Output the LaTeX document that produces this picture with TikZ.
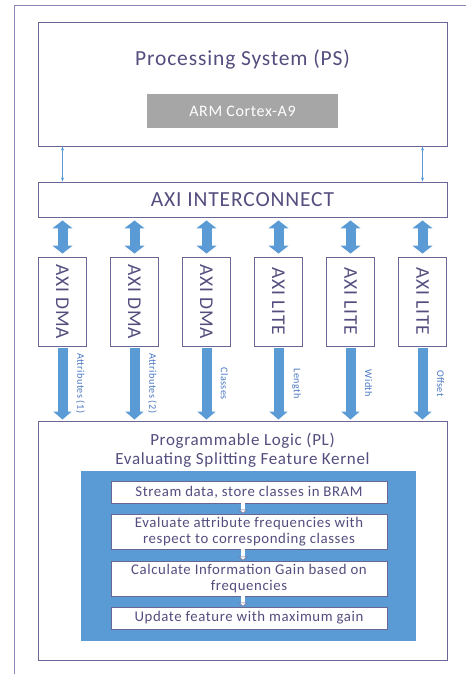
\documentclass[tikz,border=0pt]{standalone}
\usepackage{fontspec}
\setmainfont{Carlito}[LetterSpace=4]
\usetikzlibrary{calc, arrows.meta, positioning}
\definecolor{cframe}{HTML}{8A86B4}
\definecolor{cline}{HTML}{6A6694}
\definecolor{ctext}{HTML}{534E7E}
\definecolor{cblue}{HTML}{5B9BD5}
\definecolor{clabel}{HTML}{4A78C2}
\definecolor{cgray}{HTML}{A6A6A6}

\begin{document}
\begin{tikzpicture}[x=1pt, y=-1pt]
    \useasboundingbox (0,0) rectangle (466,674);
    \begin{scope}[
        bigbox/.style={rectangle, draw=cline, line width=0.9pt, minimum width=409pt, inner sep=0pt},
        portbox/.style={rectangle, draw=cline, line width=0.9pt, minimum width=48pt, minimum height=89pt, inner sep=0pt, font=\fontsize{19.5}{22}\selectfont\color{ctext}},
        stepbox/.style={rectangle, draw=cline, line width=0.8pt, fill=white, minimum width=276pt, inner sep=0pt, align=center, font=\fontsize{14.8}{16}\selectfont\color{ctext}},
        title/.style={font=\fontsize{21.5}{24}\selectfont\color{ctext}},
        portlabel/.style={font=\fontsize{10.2}{12}\selectfont\color{clabel}, rotate=-90},
        thick arrow/.style={draw=cblue, line width=10pt, {Triangle[length=8pt, width=20pt]}-{Triangle[length=8pt, width=20pt]}},
        down arrow/.style={draw=cblue, line width=10pt, -{Triangle[length=8pt, width=18pt]}},
        thin arrow/.style={draw=cblue, line width=0.9pt, {Stealth[length=4pt, width=3pt]}-{Stealth[length=4pt, width=3pt]}},
        flow arrow/.style={draw=cline, line width=0.5pt, double=white, double distance=3.5pt, -{Triangle[length=4pt, width=9pt, fill=white]}}
    ]
        % ================= OUTER FRAME =================
        \draw[cframe, line width=0.9pt] (14,674) -- (14,5) -- (466,5);

        % ================= PROCESSING SYSTEM =================
        \node[bigbox, minimum height=124pt] (ps) at (242.5,84) {};
        \node[title] (ps_title) at (242.5,59) {Processing System (PS)};
        \node[rectangle, fill=cgray, minimum width=191pt, minimum height=34pt, font=\fontsize{16}{18}\selectfont\color{white}] (arm) at (242.5,111) {ARM Cortex-A9};

        % ================= AXI INTERCONNECT =================
        \node[bigbox, minimum height=35pt, title] (ic) at (242.5,199.5) {AXI INTERCONNECT};
        \draw[thin arrow] (ps.south -| 62.5,0) -- (ic.north -| 62.5,0);
        \draw[thin arrow] (ps.south -| 422.5,0) -- (ic.north -| 422.5,0);

        % ================= PROGRAMMABLE LOGIC =================
        \node[bigbox, minimum height=239pt] (pl) at (242.5,540.5) {};

        % ================= AXI PORTS =================
        \foreach \i/\kind/\lbl in {0/DMA/Attributes (1), 1/DMA/Attributes (2), 2/DMA/Classes,
                                   3/LITE/Length, 4/LITE/Width, 5/LITE/Offset} {
            \node[portbox] (port\i) at (62.5+72*\i,301.5) {\rotatebox{-90}{AXI \kind}};
            \draw[thick arrow, shorten <=3pt, shorten >=3pt] (ic.south -| port\i) -- (port\i.north);
            \draw[down arrow, shorten <=2pt, shorten >=1pt] (port\i.south) -- (pl.north -| port\i);
            \node[portlabel] (lbl\i) at ($(port\i.south)!0.5!(pl.north -| port\i)+(18,0)$) {\lbl};
        }

        % ================= KERNEL =================
        \node[font=\fontsize{17}{19.5}\selectfont\color{ctext}, align=center] (pl_title) at (242.5,450) {Programmable Logic (PL)\\Evaluating Splitting Feature Kernel};
        \node[rectangle, fill=cblue, minimum width=335pt, minimum height=170pt] (kernel) at (248.5,556) {};
        \node[stepbox, minimum height=22pt] (s1) at (249,492) {Stream data, store classes in BRAM};
        \node[stepbox, minimum height=35pt] (s2) at (249,531.5) {Evaluate attribute frequencies with\\respect to corresponding classes};
        \node[stepbox, minimum height=35pt] (s3) at (249,578.5) {Calculate Information Gain based on\\frequencies};
        \node[stepbox, minimum height=22pt] (s4) at (249,618) {Update feature with maximum gain};
        \draw[flow arrow] ([xshift=-6pt]s1.south) -- ([xshift=-6pt]s2.north);
        \draw[flow arrow] ([xshift=-6pt]s2.south) -- ([xshift=-6pt]s3.north);
        \draw[flow arrow] ([xshift=-6pt]s3.south) -- ([xshift=-6pt]s4.north);
    \end{scope}
\end{tikzpicture}
\end{document}
